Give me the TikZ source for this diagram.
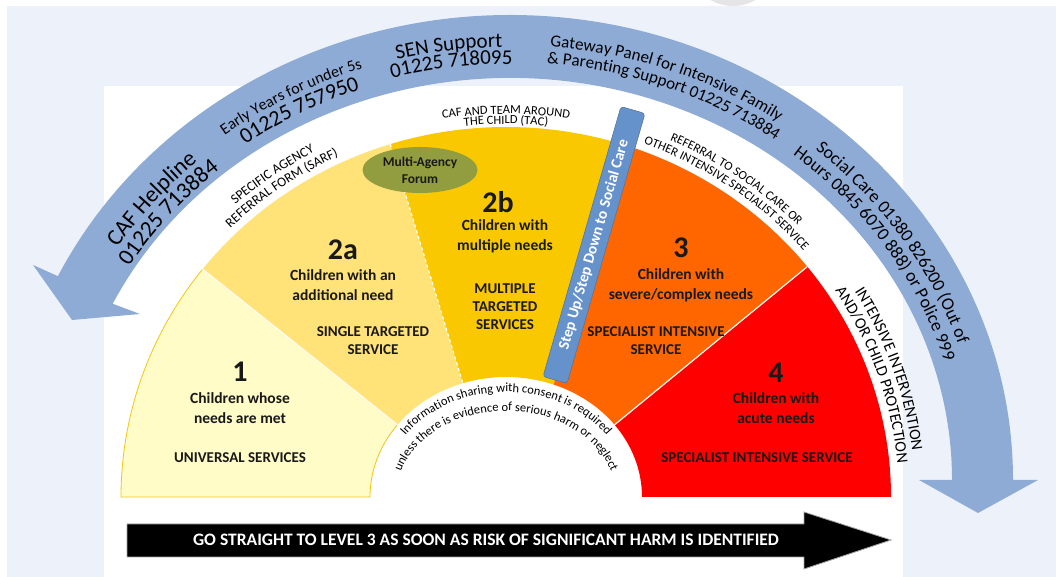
\documentclass[tikz,border=0pt]{standalone}
\usepackage{fontspec}
\setmainfont{Carlito}
\usetikzlibrary{calc, decorations.text, shapes.geometric}

\definecolor{pagebg}{RGB}{237,242,250}
\definecolor{bandblue}{RGB}{142,171,214}
\definecolor{barblue}{RGB}{102,146,204}
\definecolor{lvlone}{RGB}{255,252,200}
\definecolor{lvlborder}{RGB}{244,196,20}
\definecolor{lvltwoa}{RGB}{255,226,120}
\definecolor{lvltwob}{RGB}{250,200,0}
\definecolor{lvlthree}{RGB}{255,102,0}
\definecolor{lvlfour}{RGB}{255,0,0}
\definecolor{forumgreen}{RGB}{145,157,62}
\definecolor{darktext}{RGB}{25,25,25}

% font sizes for the texts along arcs
\newcommand\fcaf{\fontsize{23}{23}\selectfont}
\newcommand\fearly{\fontsize{16}{16}\selectfont}
\newcommand\fphone{\fontsize{22}{22}\selectfont}
\newcommand\fsen{\fontsize{21}{21}\selectfont}
\newcommand\fgate{\fontsize{17}{17}\selectfont}
\newcommand\fsocial{\fontsize{18}{18}\selectfont}
\newcommand\fsarf{\fontsize{13.5}{13.5}\selectfont}
\newcommand\fring{\fontsize{12.5}{12.5}\selectfont}
\newcommand\fringbig{\fontsize{16}{16}\selectfont}
\newcommand\finfo{\fontsize{12.5}{12.5}\selectfont}

\begin{document}
\begin{tikzpicture}[x=1pt, y=1pt,
    wedge/.style={draw=white, line width=1.2pt},
    bignum/.style={font=\fontsize{30}{30}\selectfont\bfseries, text=darktext},
    needtext/.style={font=\fontsize{15.5}{20}\selectfont\bfseries, align=center, text=darktext},
    servicetext/.style={font=\fontsize{15}{18}\selectfont\bfseries, align=center, text=darktext},
    alongarc/.style={decorate, decoration={text along path, text align=center, text={#1}}}]
    \useasboundingbox (0,0) rectangle (1056,577);
    \fill[white] (0,0) rectangle (1056,577);
    \fill[pagebg] (7,0) rectangle (1056,571);
    \begin{scope}
        \clip (0,571) rectangle (1056,577);
        \fill[gray!20] (733,616) circle[radius=45];
    \end{scope}
    \fill[white] (104,0) rectangle (903,491);

    \coordinate (band) at (510,97);
    \coordinate (hub) at (506,80);

    % curved blue arrow
    \fill[bandblue] (1013,97) arc[start angle=0, end angle=154, x radius=503, y radius=465]
        -- (33,312) -- (72,257) -- (140,263)
        -- ($(band)+(154:442 and 402)$) arc[start angle=154, end angle=0, x radius=442, y radius=402]
        -- (919,97) -- (978,64) -- (1038,97) -- cycle;

    % levels
    \filldraw[fill=lvlone, draw=lvlborder, line width=0.8pt] (121,80)
        arc[start angle=180, end angle=142, x radius=385, y radius=370]
        -- ($(hub)+(143:136 and 120)$) arc[start angle=143, end angle=180, x radius=136, y radius=120] -- cycle;
    \fill[lvltwoa] ($(hub)+(142:385 and 370)$)
        arc[start angle=142, end angle=107.5, x radius=385, y radius=370]
        -- ($(hub)+(108.5:136 and 120)$) arc[start angle=108.5, end angle=143, x radius=136, y radius=120] -- cycle;
    \fill[lvltwob] ($(hub)+(107.5:385 and 370)$)
        arc[start angle=107.5, end angle=72, x radius=385, y radius=370]
        -- ($(hub)+(69.5:136 and 120)$) arc[start angle=69.5, end angle=108.5, x radius=136, y radius=120] -- cycle;
    \fill[lvlthree] ($(hub)+(72:385 and 370)$)
        arc[start angle=72, end angle=38.5, x radius=385, y radius=370]
        -- ($(hub)+(37:136 and 120)$) arc[start angle=37, end angle=69.5, x radius=136, y radius=120] -- cycle;
    \fill[lvlfour] ($(hub)+(38.5:385 and 370)$)
        arc[start angle=38.5, end angle=0, x radius=385, y radius=370]
        -- (642,80) arc[start angle=0, end angle=37, x radius=136, y radius=120] -- cycle;

    % borders between levels
    \draw[wedge] ($(hub)+(142:385 and 370)$) -- ($(hub)+(143:136 and 120)$);
    \draw[wedge, dashed] ($(hub)+(107.5:385 and 370)$) -- ($(hub)+(108.5:136 and 120)$);
    \draw[wedge] ($(hub)+(38.5:385 and 370)$) -- ($(hub)+(37:136 and 120)$);

    \node (stepbar) [rotate=73.9, fill=barblue, draw=barblue!80!black, line width=0.6pt, rounded corners=3pt,
        minimum width=281pt, minimum height=25pt, inner sep=0pt, text=white,
        font=\fontsize{15.5}{15.5}\selectfont\bfseries] at (594,332) {Step Up/Step Down to Social Care};
    \node (forum) [ellipse, fill=forumgreen, minimum width=115pt, minimum height=46pt, inner sep=0pt, align=center,
        text=darktext, font=\fontsize{13.5}{17}\selectfont\bfseries] at (420,407) {Multi-Agency\\Forum};

    % level texts
    \node (onenum) [bignum] at (240,205) {1};
    \node (oneneed) [needtext] at (240,169) {Children whose\\needs are met};
    \node (oneservice) [servicetext] at (240,119) {UNIVERSAL SERVICES};
    \node (twoanum) [bignum] at (343,327) {2a};
    \node (twoaneed) [needtext] at (343,291.5) {Children with an\\additional need};
    \node (twoaservice) [servicetext] at (373,236) {SINGLE TARGETED\\SERVICE};
    \node (twobnum) [bignum] at (498,375) {2b};
    \node (twobneed) [needtext] at (505,341) {Children with\\multiple needs};
    \node (twobservice) [servicetext] at (505,270) {MULTIPLE\\TARGETED\\SERVICES};
    \node (threenum) [bignum] at (681,329) {3};
    \node (threeneed) [needtext] at (681,292) {Children with\\severe/complex needs};
    \node (threeservice) [servicetext] at (656,236) {SPECIALIST INTENSIVE\\SERVICE};
    \node (fournum) [bignum] at (776,204) {4};
    \node (fourneed) [needtext] at (776,169) {Children with\\acute needs};
    \node (fourservice) [servicetext] at (757,119) {SPECIALIST INTENSIVE SERVICE};

    % texts in the blue arrow
    \path[alongarc={|\fcaf|CAF Helpline}] ($(band)+(165:467 and 429)$) arc[start angle=165, end angle=115, x radius=467, y radius=429];
    \path[alongarc={|\fcaf|01225 713884}] ($(band)+(165:446 and 409)$) arc[start angle=165, end angle=115, x radius=446, y radius=409];
    \path[alongarc={|\fearly|Early Years for under 5s}] ($(band)+(143:472 and 433)$) arc[start angle=143, end angle=93, x radius=472, y radius=433];
    \path[alongarc={|\fphone|01225 757950}] ($(band)+(143:451 and 414)$) arc[start angle=143, end angle=93, x radius=451, y radius=414];
    \path[alongarc={|\fsen|SEN Support}] ($(band)+(122:472 and 433)$) arc[start angle=122, end angle=73, x radius=472, y radius=433];
    \path[alongarc={|\fsen|01225 718095}] ($(band)+(122:453 and 416)$) arc[start angle=122, end angle=73, x radius=453, y radius=416];
    \path[alongarc={|\fgate|Gateway Panel for Intensive Family}] ($(band)+(102:474 and 435)$) arc[start angle=102, end angle=38, x radius=474, y radius=435];
    \path[alongarc={|\fgate|{\&} Parenting Support 01225 713884}] ($(band)+(102:455 and 418)$) arc[start angle=102, end angle=37, x radius=455, y radius=418];
    \path[alongarc={|\fsocial|Social Care 01380 826200 (Out of}] ($(band)+(66:472 and 433)$) arc[start angle=66, end angle=1, x radius=472, y radius=433];
    \path[alongarc={|\fsocial|Hours 0845 6070 888) or Police 999}] ($(band)+(66:453 and 416)$) arc[start angle=66, end angle=1, x radius=453, y radius=416];

    % texts round the levels
    \path[alongarc={|\fsarf|SPECIFIC AGENCY}] ($(hub)+(147:407 and 391)$) arc[start angle=147, end angle=103, x radius=407, y radius=391];
    \path[alongarc={|\fsarf|REFERRAL FORM (SARF)}] ($(hub)+(147:393 and 377)$) arc[start angle=147, end angle=103, x radius=393, y radius=377];
    \path[alongarc={|\fring|CAF AND TEAM AROUND}] ($(hub)+(110:398 and 383)$) arc[start angle=110, end angle=70, x radius=398, y radius=383];
    \path[alongarc={|\fring|THE CHILD (TAC)}] ($(hub)+(110:388 and 373)$) arc[start angle=110, end angle=70, x radius=388, y radius=373];
    \path[alongarc={|\fring|REFERRAL TO SOCIAL CARE OR}] ($(hub)+(80:406 and 390)$) arc[start angle=80, end angle=30, x radius=406, y radius=390];
    \path[alongarc={|\fring|OTHER INTENSIVE SPECIALIST SERVICE}] ($(hub)+(80:393 and 377)$) arc[start angle=80, end angle=30, x radius=393, y radius=377];
    \path[alongarc={|\fringbig|INTENSIVE INTERVENTION}] ($(hub)+(47:409 and 393)$) arc[start angle=47, end angle=-9, x radius=409, y radius=393];
    \path[alongarc={|\fringbig|AND/OR CHILD PROTECTION}] ($(hub)+(47:393 and 377)$) arc[start angle=47, end angle=-9, x radius=393, y radius=377];

    % information sharing
    \path[alongarc={|\finfo|Information sharing with consent is required}] ($(hub)+(178:124 and 105)$) arc[start angle=178, end angle=2, x radius=124, y radius=105];
    \path[alongarc={|\finfo|unless there is evidence of serious harm or neglect}] ($(hub)+(179:110 and 86)$) arc[start angle=179, end angle=1, x radius=110, y radius=86];

    % bottom arrow
    \filldraw[fill=black, draw=gray!70, line width=0.8pt] (127,53) -- (804,53) -- (804,65) -- (891,37)
        -- (804,8) -- (804,20) -- (127,20) -- cycle;
    \node (harmtext) [text=white, font=\fontsize{17.5}{17.5}\selectfont\bfseries] at (486,37)
        {GO STRAIGHT TO LEVEL 3 AS SOON AS RISK OF SIGNIFICANT HARM IS IDENTIFIED};
\end{tikzpicture}
\end{document}
